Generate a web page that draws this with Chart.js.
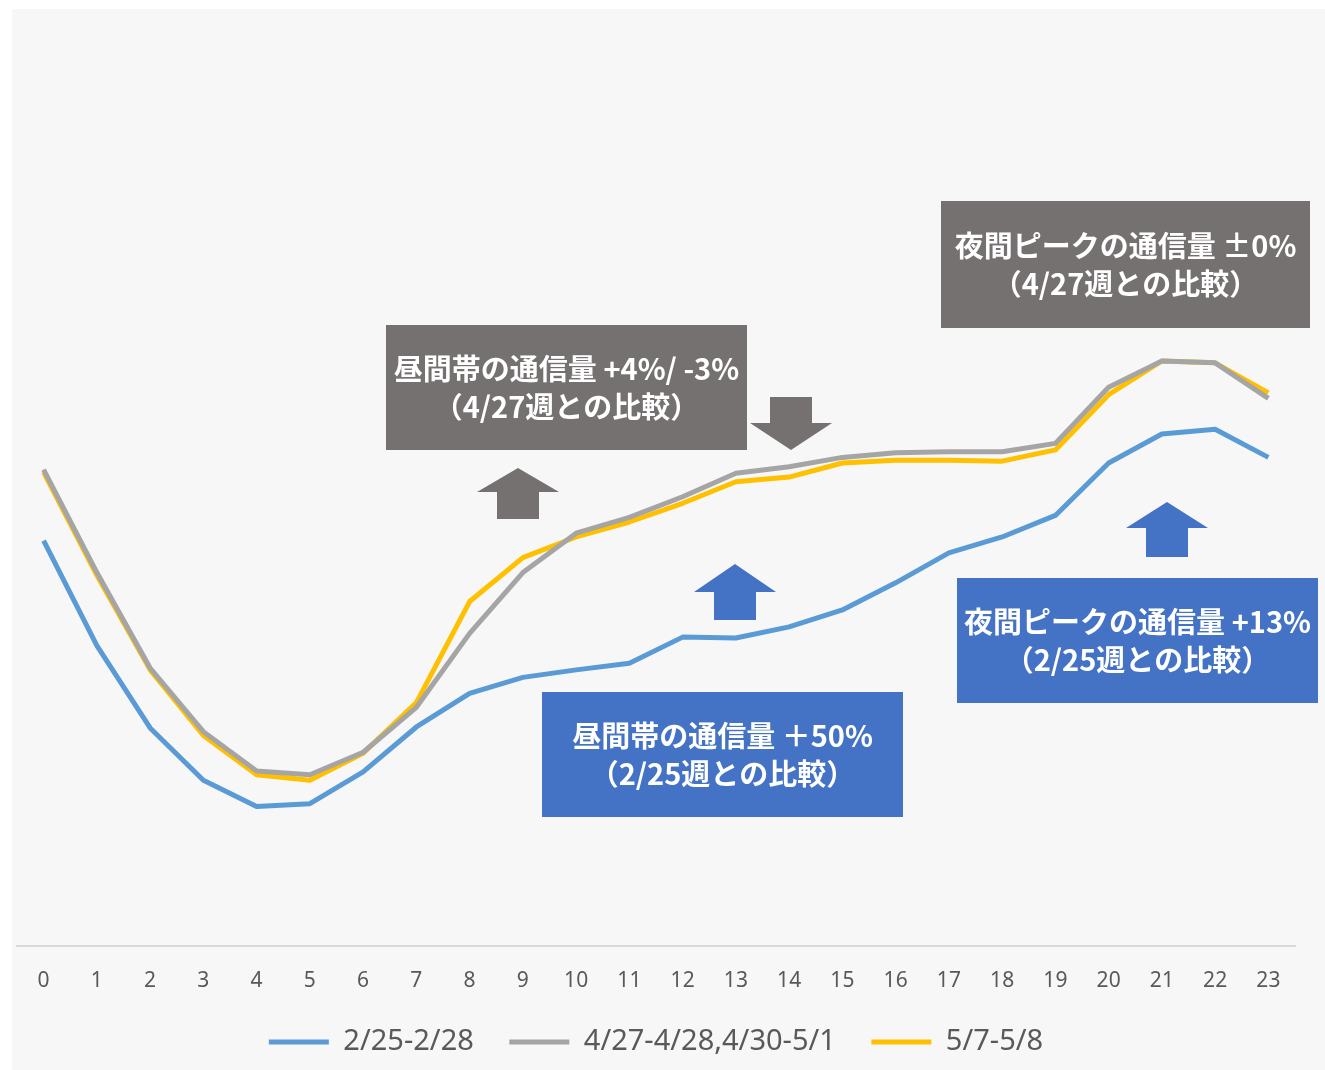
<!DOCTYPE html>
<html>
<head>
<meta charset="utf-8">
<script src="https://cdn.jsdelivr.net/npm/chart.js@4"></script>
<style>
  html, body { margin: 0; padding: 0; background: #fff; }
  #wrap { width: 1325px; height: 1070px; position: relative; }
</style>
</head>
<body>
<div id="wrap"><canvas id="chart"></canvas></div>
<script>
// hours of the day
const hours = ['0','1','2','3','4','5','6','7','8','9','10','11','12','13','14','15','16','17','18','19','20','21','22','23']

// relative traffic
const feb = [43.3, 32.1, 23.3, 17.7, 14.9, 15.2, 18.6, 23.4, 27.0, 28.7, 29.5, 30.2, 33.0, 32.9, 34.1, 35.9, 38.8, 42.0, 43.7, 46.0, 51.6, 54.7, 55.2, 52.2]
const apr = [50.9, 39.9, 29.7, 22.9, 18.7, 18.3, 20.7, 25.5, 33.4, 39.9, 44.1, 45.8, 48.0, 50.5, 51.2, 52.2, 52.7, 52.8, 52.8, 53.7, 59.7, 62.5, 62.3, 58.5]
const may = [50.6, 39.6, 29.5, 22.5, 18.3, 17.7, 20.6, 26.0, 36.8, 41.5, 43.7, 45.3, 47.3, 49.6, 50.1, 51.6, 51.9, 51.9, 51.8, 53.0, 58.9, 62.5, 62.3, 59.1]

const seriesNames = ['2/25-2/28', '4/27-4/28,4/30-5/1', '5/7-5/8']
const seriesColors = ['#5b9bd5', '#a5a5a5', '#ffc000']

// callout boxes: [left, top, width, height, color, line1, line2]
const notes = [
  [386, 325, 361, 125, '#767171', '昼間帯の通信量 +4%/ -3%', '（4/27週との比較）'],
  [941, 201, 369, 127, '#767171', '夜間ピークの通信量 ±0%', '（4/27週との比較）'],
  [542, 692, 361, 125, '#4472c4', '昼間帯の通信量 ＋50%', '（2/25週との比較）'],
  [957, 578, 361, 125, '#4472c4', '夜間ピークの通信量 +13%', '（2/25週との比較）']
]
// block arrows: [centerX, tipY, headBaseY, endY, color]  (tip above end = up arrow)
const arrows = [
  [518, 468, 492, 519, '#767171'],
  [791, 450, 423, 397, '#767171'],
  [735, 564, 592, 620, '#4472c4'],
  [1167, 502, 528, 557, '#4472c4']
]

const bgPlugin = {
  id: 'bg',
  beforeDraw(chart) {
    const c = chart.ctx
    c.save()
    c.fillStyle = '#ffffff'
    c.fillRect(0, 0, chart.width, chart.height)
    c.fillStyle = '#f7f7f7'
    c.fillRect(12, 9, chart.width - 12, chart.height - 9)
    c.restore()
  }
}

const notePlugin = {
  id: 'notes',
  afterDatasetsDraw(chart) {
    const c = chart.ctx
    c.save()
    arrows.forEach(a => {
      const [cx, tip, base, end, col] = a
      c.fillStyle = col
      c.beginPath()
      c.moveTo(cx, tip)
      c.lineTo(cx + 41, base)
      c.lineTo(cx + 21, base)
      c.lineTo(cx + 21, end)
      c.lineTo(cx - 21, end)
      c.lineTo(cx - 21, base)
      c.lineTo(cx - 41, base)
      c.closePath()
      c.fill()
    })
    notes.forEach(n => {
      const [x, y, w, h, col, t1, t2] = n
      c.fillStyle = col
      c.fillRect(x, y, w, h)
      c.fillStyle = '#ffffff'
      c.font = 'bold 29px "Noto Sans CJK JP"'
      c.textAlign = 'center'
      c.textBaseline = 'middle'
      c.fillText(t1, x + w / 2, y + h / 2 - 19, w - 6)
      c.fillText(t2, x + w / 2, y + h / 2 + 19, w - 6)
    })
    c.restore()
  }
}

const ctx = document.getElementById('chart').getContext('2d')

const chart = new Chart(ctx, {
  type: 'line',
  data: {
    labels: hours,
    datasets: [feb, apr, may].map((d, i) => ({
      label: seriesNames[i],
      data: d,
      borderColor: seriesColors[i],
      backgroundColor: seriesColors[i],
      borderWidth: 5,
      pointRadius: 0,
      tension: 0,
      fill: false,
      borderJoinStyle: 'round'
    }))
  },
  options: {
    responsive: true,
    maintainAspectRatio: false,
    animation: false,
    layout: { padding: { left: 17, right: 30, top: 10, bottom: 3.5 } },
    scales: {
      x: {
        offset: true,
        grid: { display: false, drawTicks: false },
        border: { display: true, color: '#d9d9d9', width: 2 },
        ticks: { color: '#595959', padding: 25, font: { family: 'Noto Sans', size: 21, lineHeight: 1 }, maxRotation: 0 },
        afterFit(scale) { scale.height = 46 }
      },
      y: {
        display: false,
        min: 0,
        max: 100
      }
    },
    plugins: {
      legend: {
        position: 'bottom',
        labels: {
          boxWidth: 60,
          boxHeight: 5,
          padding: 35.5,
          color: '#595959',
          font: { family: 'Noto Sans', size: 29 },
          generateLabels(chart) {
            return Chart.defaults.plugins.legend.labels.generateLabels(chart).map(l => {
              l.lineWidth = 0
              l.fillStyle = l.strokeStyle
              return l
            })
          }
        }
      },
      tooltip: { enabled: false }
    }
  },
  plugins: [bgPlugin, notePlugin]
})
</script>
</body>
</html>
